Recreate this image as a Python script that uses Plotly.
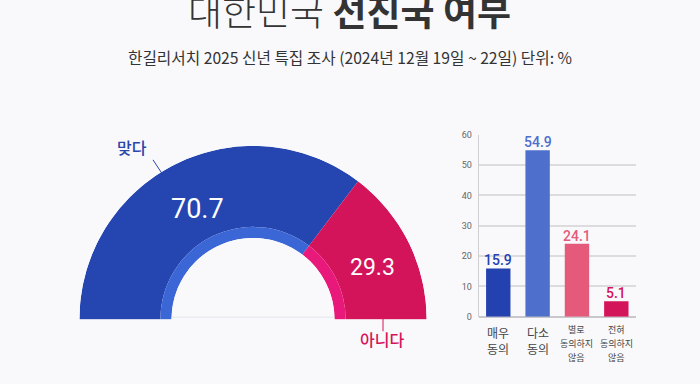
import plotly.graph_objects as go

# ---- data ----
donut_labels = ["맞다", "아니다"]
donut_values = [70.7, 29.3]
bar_categories = ["매우<br>동의", "다소<br>동의", "별로<br>동의하지<br>않음", "전혀<br>동의하지<br>않음"]
bar_values = [15.9, 54.9, 24.1, 5.1]
y_ticks = [0, 10, 20, 30, 40, 50, 60]

W, H = 700, 384
BG = "#f9f9fb"
FONT = "Roboto, 'Noto Sans CJK KR', sans-serif"
KFONT = "'Noto Sans CJK KR', Roboto, sans-serif"

def px(x):
    return x / W

def py(y):
    return 1 - y / H

outer_colors = ["#2546b0", "#d4145a"]
inner_colors = ["#3a66d6", "#e8197a"]
bar_colors = ["#2441b0", "#4e6fcc", "#e55a7a", "#d4145a"]

R_OUT, R_MID, R_IN = 172.5, 92.0, 81.0

# angles: start at 180 (left), go clockwise
total = sum(donut_values)
thetas, widths = [], []
start = 180.0
for v in donut_values:
    w = v / total * 180.0
    thetas.append(start - w / 2)
    widths.append(w)
    start -= w

fig = go.Figure()
fig.add_trace(go.Barpolar(
    theta=thetas, width=widths, r=[R_OUT - R_MID] * 2, base=[R_MID] * 2,
    marker=dict(color=outer_colors, line=dict(width=0)),
    hoverinfo="skip", showlegend=False, subplot="polar"))
fig.add_trace(go.Barpolar(
    theta=thetas, width=widths, r=[R_MID - R_IN] * 2, base=[R_IN] * 2,
    marker=dict(color=inner_colors, line=dict(width=0)),
    hoverinfo="skip", showlegend=False, subplot="polar"))

fig.add_trace(go.Bar(
    x=bar_categories, y=bar_values, xaxis="x", yaxis="y",
    marker=dict(color=bar_colors, line=dict(width=0)),
    hoverinfo="skip", showlegend=False))

fig.update_layout(
    width=W, height=H, margin=dict(l=0, r=0, t=0, b=0),
    paper_bgcolor=BG, plot_bgcolor=BG,
    font=dict(family=KFONT, color="#333"),
    bargap=0.38,
    polar=dict(
        domain=dict(x=[px(74.4), px(431.6)], y=[py(322.9), py(144.6)]),
        sector=[0, 180], hole=R_IN / R_OUT, bgcolor=BG, bargap=0,
        radialaxis=dict(range=[R_IN, R_OUT], visible=False),
        angularaxis=dict(visible=False, rotation=0, direction="counterclockwise"),
    ),
    xaxis=dict(domain=[px(478.6), px(636)], showticklabels=False, ticks="",
               showline=False, showgrid=False, zeroline=False),
    yaxis=dict(domain=[py(320), py(133.3)], range=[0, 60], tickvals=y_ticks,
               tickfont=dict(size=9, color="#666", family=FONT),
               showgrid=True, gridcolor="#dcdcdf", gridwidth=1.5,
               showline=True, linecolor="#d0d0d4", linewidth=1,
               zeroline=True, zerolinecolor="#c8c8cc", zerolinewidth=1.5,
               ticks="", ticklabelstandoff=4),
)

ann = []
# title
ann.append(dict(text="<span style='font-weight:300'>대한민국</span> <b>선진국 여부</b>",
                x=px(349), y=py(5), xref="paper", yref="paper", showarrow=False,
                font=dict(size=37, color="#333", family=KFONT), xanchor="center", yanchor="middle"))
ann.append(dict(text="한길리서치 2025 신년 특집 조사 (2024년 12월 19일 ~ 22일) 단위: %",
                x=px(350), y=py(54), xref="paper", yref="paper", showarrow=False,
                font=dict(size=15.7, color="#333", family=KFONT), xanchor="center", yanchor="middle"))
# donut value labels
ann.append(dict(text=f"{donut_values[0]}", x=px(197), y=py(209), xref="paper", yref="paper",
                showarrow=False, xanchor="center", yanchor="middle",
                font=dict(size=27, color="white", family=FONT)))
ann.append(dict(text=f"{donut_values[1]}", x=px(373), y=py(270), xref="paper", yref="paper",
                showarrow=False, xanchor="center", yanchor="middle",
                font=dict(size=23, color="white", family=FONT)))
# donut category labels
ann.append(dict(text=donut_labels[0], x=px(132), y=py(146), xref="paper", yref="paper",
                showarrow=False, xanchor="center", yanchor="middle",
                font=dict(size=16, color="#2a47aa", family=KFONT, weight=500)))
ann.append(dict(text=donut_labels[1], x=px(382), y=py(343), xref="paper", yref="paper",
                showarrow=False, xanchor="center", yanchor="middle",
                font=dict(size=16, color="#d4145a", family=KFONT, weight=500)))
# bar value labels
for c, v, col in zip(bar_categories, bar_values, bar_colors):
    ann.append(dict(text=f"{v:.1f}", x=c, y=v, xref="x", yref="y", showarrow=False,
                    xanchor="center", yanchor="bottom", yshift=-2,
                    font=dict(size=14, color=col, family=FONT, weight=500)))
# bar category labels
for c in bar_categories:
    lines = c.split("<br>")
    if len(lines) == 2:
        ys, size = [336, 353], 12
    else:
        ys, size = [333, 348, 362], 9
    for ln, yy in zip(lines, ys):
        ann.append(dict(text=ln, x=c, y=py(yy), xref="x", yref="paper", showarrow=False,
                        xanchor="center", yanchor="middle",
                        font=dict(size=size, color="#444", family=KFONT)))
fig.update_layout(annotations=ann)

fig.add_shape(type="line", xref="paper", yref="paper", x0=px(80), y0=py(320.5), x1=px(426), y1=py(320.5),
              line=dict(color="#e4e4ee", width=1), layer="below")
fig.add_shape(type="line", xref="paper", yref="paper", x0=px(153), y0=py(159), x1=px(162), y1=py(173),
              line=dict(color="#2a47aa", width=1))
fig.add_shape(type="line", xref="paper", yref="paper", x0=px(383), y0=py(320), x1=px(383), y1=py(335),
              line=dict(color="#d4145a", width=1))

fig.write_html("out.html", config={"displayModeBar": False},
               post_script="document.body.style.margin='0';document.body.style.overflow='hidden';")
